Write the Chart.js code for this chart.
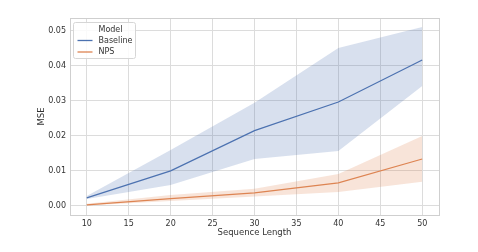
<!DOCTYPE html>
<html>
<head>
<meta charset="utf-8">
<script src="https://cdn.jsdelivr.net/npm/chart.js@4.4.1/dist/chart.umd.min.js"></script>
<style>
  html, body { margin: 0; padding: 0; background: #fff; }
  #wrap { width: 478px; height: 252px; position: relative; }
</style>
</head>
<body>
<div id="wrap"><canvas id="grafica" width="478" height="252"></canvas></div>
<script>
// datos
const seqLength = [10, 20, 30, 40, 50];
const baselineMse = [0.0023, 0.0100, 0.0215, 0.0297, 0.0417];
const baselineLow = [0.0020, 0.0060, 0.0134, 0.0157, 0.0343];
const baselineHigh = [0.0028, 0.0160, 0.0295, 0.0451, 0.0511];
const npsMse = [0.0003, 0.0021, 0.0037, 0.0066, 0.0134];
const npsLow = [0.0001, 0.0014, 0.0027, 0.0040, 0.0069];
const npsHigh = [0.0006, 0.0031, 0.0049, 0.0091, 0.0200];
const xTicks = [10, 15, 20, 25, 30, 35, 40, 45, 50];
const yTicks = [0, 0.01, 0.02, 0.03, 0.04, 0.05];

const AZUL = '#4c72b0';
const NARANJA = '#dd8452';
const FUENTE = "'DejaVu Sans', sans-serif";

function puntos(valores) {
    return seqLength.map((x, i) => ({ x: x, y: valores[i] }));
}

// marco y leyenda dibujados a mano
const marcoLeyenda = {
    id: 'marcoLeyenda',
    afterDraw(chart) {
        const ctx = chart.ctx;
        const a = chart.chartArea;
        ctx.save();
        ctx.strokeStyle = '#cfcfcf';
        ctx.lineWidth = 1;
        ctx.strokeRect(Math.round(a.left) + 0.5, Math.round(a.top) + 0.5,
            Math.round(a.right - a.left), Math.round(a.bottom - a.top));

        // caja de la leyenda
        const bx = a.left + 3.5, by = a.top + 4.5, bw = 62, bh = 36;
        ctx.fillStyle = 'rgba(255,255,255,0.85)';
        ctx.strokeStyle = '#d6d6d6';
        ctx.beginPath();
        ctx.roundRect(bx, by, bw, bh, 2);
        ctx.fill();
        ctx.stroke();

        ctx.font = '8px ' + FUENTE;
        ctx.fillStyle = '#333';
        ctx.textBaseline = 'middle';
        ctx.textAlign = 'center';
        ctx.fillText('Model', bx + 37, by + 7);
        ctx.textAlign = 'left';
        const filas = [['Baseline', AZUL], ['NPS', NARANJA]];
        filas.forEach((f, i) => {
            const yy = by + 18 + i * 11.5;
            ctx.strokeStyle = f[1];
            ctx.lineWidth = 1.3;
            ctx.beginPath();
            ctx.moveTo(bx + 4, yy);
            ctx.lineTo(bx + 19, yy);
            ctx.stroke();
            ctx.fillText(f[0], bx + 25, yy);
        });
        ctx.restore();
    }
};

const ctx = document.getElementById('grafica').getContext('2d');

new Chart(ctx, {
    type: 'line',
    data: {
        datasets: [
            { data: puntos(baselineLow), borderWidth: 0, pointRadius: 0, fill: false },
            { data: puntos(baselineHigh), borderWidth: 0, pointRadius: 0, fill: '-1',
              backgroundColor: 'rgba(76,114,176,0.22)' },
            { data: puntos(npsLow), borderWidth: 0, pointRadius: 0, fill: false },
            { data: puntos(npsHigh), borderWidth: 0, pointRadius: 0, fill: '-1',
              backgroundColor: 'rgba(221,132,82,0.22)' },
            { label: 'Baseline', data: puntos(baselineMse), borderColor: AZUL,
              borderWidth: 1.2, pointRadius: 0, fill: false },
            { label: 'NPS', data: puntos(npsMse), borderColor: NARANJA,
              borderWidth: 1.2, pointRadius: 0, fill: false }
        ]
    },
    options: {
        responsive: false,
        animation: false,
        layout: { padding: { left: 37, top: 18, right: 39, bottom: 14 } },
        plugins: {
            legend: { display: false },
            tooltip: { enabled: false }
        },
        scales: {
            x: {
                type: 'linear',
                min: 8,
                max: 52,
                afterBuildTicks: s => { s.ticks = xTicks.map(v => ({ value: v })); },
                afterFit: s => { s.height = 23; },
                grid: { color: '#dcdcdc', lineWidth: 1, drawTicks: false },
                border: { display: false },
                ticks: { color: '#333', padding: 4, font: { family: FUENTE, size: 8 },
                         maxRotation: 0 },
                title: { display: true, text: 'Sequence Length', color: '#333',
                         font: { family: FUENTE, size: 8.5 }, padding: { top: 0, bottom: 0 } }
            },
            y: {
                min: -0.0026,
                max: 0.0537,
                afterBuildTicks: s => { s.ticks = yTicks.map(v => ({ value: v })); },
                afterFit: s => { s.width = 33; },
                grid: { color: '#dcdcdc', lineWidth: 1, drawTicks: false },
                border: { display: false },
                ticks: { color: '#333', padding: 4, font: { family: FUENTE, size: 8 },
                         callback: v => v.toFixed(2) },
                title: { display: true, text: 'MSE', color: '#333',
                         font: { family: FUENTE, size: 8.5 }, padding: { top: 0, bottom: 0 } }
            }
        }
    },
    plugins: [marcoLeyenda]
});
</script>
</body>
</html>
